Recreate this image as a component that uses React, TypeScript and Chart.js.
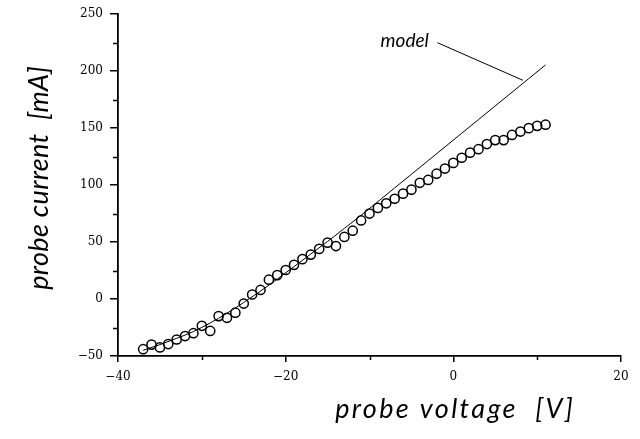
import React, { useEffect, useRef } from "react";
import { Chart, registerables } from "chart.js";

Chart.register(...registerables);

// Measured probe characteristic (circles)
const voltages = [
  -37, -36, -35, -34, -33, -32, -31, -30, -29, -28, -27, -26, -25, -24, -23, -22, -21,
  -20, -19, -18, -17, -16, -15, -14, -13, -12, -11, -10, -9, -8, -7, -6, -5, -4, -3,
  -2, -1, 0, 1, 2, 3, 4, 5, 6, 7, 8, 9, 10, 11,
];
const currents = [
  -44, -40, -42.5, -39.5, -35.5, -32.5, -30, -23.5, -28, -15, -16.5, -12, -4, 4, 8, 17, 21,
  25.5, 30, 35, 39, 44, 49.5, 46.5, 54.5, 60, 69, 75, 80, 84, 88, 92.5, 96, 102, 104.5,
  110, 114.5, 119.5, 124, 128.5, 131.5, 136, 139.5, 139.5, 144, 147, 150, 152, 153,
];

// Model curve (thin line)
const modelVoltages = [
  -37, -35, -33, -31, -29, -27, -25, -23, -21, -19, -17, -15, -13, -11, -9, -7, -5, -3,
  -1, 1, 3, 5, 7, 9, 11,
];
const modelCurrents = [
  -45, -40, -34.5, -28.5, -21, -12.5, -3, 7, 17.5, 28.5, 39.5, 50.5, 62, 73.5, 85.5, 97.5,
  109.5, 121.5, 133.5, 145.5, 157.5, 169.5, 181.5, 193.5, 205.5,
];

// Axis setup
const xMin = -40;
const xMax = 20;
const xStep = 20;
const xMinorTicks = [-30, -10, 10];
const yMin = -50;
const yMax = 250;
const yStep = 50;
const yMinorTicks = [-25, 25, 75, 125, 175, 225];

const xTitle = "probe voltage  [V]";
const yTitle = "probe current  [mA]";

// Annotation "model" with leader line (data coordinates)
const annotationLabel = "model";
const annotationLabelAt = { x: -5.8, y: 227 };
const leaderFrom = { x: -1.9, y: 225 };
const leaderTo = { x: 8.3, y: 192 };

const titleFont = "italic 27px Lato, 'Open Sans', sans-serif";
const tickFont = "DejaVu Serif";

function fitText(
  ctx: CanvasRenderingContext2D,
  text: string,
  x: number,
  y: number,
  targetWidth: number
) {
  (ctx as any).letterSpacing = "0px";
  const w = ctx.measureText(text).width;
  const extra = Math.max(0, (targetWidth - w) / text.length);
  (ctx as any).letterSpacing = extra.toFixed(2) + "px";
  ctx.fillText(text, x + extra / 2, y);
  (ctx as any).letterSpacing = "0px";
}

const overlayPlugin = {
  id: "overlay",
  afterDraw(chart: any) {
    const ctx = chart.ctx as CanvasRenderingContext2D;
    const xs = chart.scales.x;
    const ys = chart.scales.y;
    const area = chart.chartArea;
    ctx.save();
    ctx.strokeStyle = "#000";
    ctx.fillStyle = "#000";
    ctx.lineWidth = 1.5;
    // minor ticks
    ctx.beginPath();
    for (const v of yMinorTicks) {
      const py = Math.round(ys.getPixelForValue(v)) + 0.5;
      ctx.moveTo(area.left - 5, py);
      ctx.lineTo(area.left, py);
    }
    for (const v of xMinorTicks) {
      const px = Math.round(xs.getPixelForValue(v)) + 0.5;
      ctx.moveTo(px, area.bottom);
      ctx.lineTo(px, area.bottom + 4);
    }
    ctx.stroke();

    // annotation leader
    ctx.lineWidth = 1;
    ctx.beginPath();
    ctx.moveTo(xs.getPixelForValue(leaderFrom.x), ys.getPixelForValue(leaderFrom.y));
    ctx.lineTo(xs.getPixelForValue(leaderTo.x), ys.getPixelForValue(leaderTo.y));
    ctx.stroke();

    ctx.font = "italic 19px Lato, 'Open Sans', sans-serif";
    ctx.textAlign = "center";
    ctx.textBaseline = "middle";
    ctx.fillText(
      annotationLabel,
      xs.getPixelForValue(annotationLabelAt.x),
      ys.getPixelForValue(annotationLabelAt.y)
    );

    // axis titles
    ctx.font = titleFont;
    ctx.textAlign = "center";
    ctx.textBaseline = "middle";
    fitText(ctx, xTitle, 454, 409, 240);
    ctx.translate(39, 178);
    ctx.rotate(-Math.PI / 2);
    fitText(ctx, yTitle, 0, 0, 224);
    ctx.restore();
  },
};

const fmt = (v: number | string) => String(v).replace("-", "\u2212");

export default function App() {
  const canvasRef = useRef<HTMLCanvasElement | null>(null);

  useEffect(() => {
    if (!canvasRef.current) return;
    const chart = new Chart(canvasRef.current, {
      type: "scatter",
      data: {
        datasets: [
          {
            label: "measured",
            data: voltages.map((v, i) => ({ x: v, y: currents[i] })),
            pointRadius: 4.6,
            pointBorderWidth: 1.5,
            pointBorderColor: "#000",
            pointBackgroundColor: "rgba(255,255,255,0)",
            showLine: false,
          },
          {
            label: "model",
            data: modelVoltages.map((v, i) => ({ x: v, y: modelCurrents[i] })),
            showLine: true,
            borderColor: "#000",
            borderWidth: 1,
            pointRadius: 0,
            cubicInterpolationMode: "monotone",
          },
        ],
      },
      options: {
        responsive: false,
        animation: false,
        events: [],
        layout: { padding: { left: 0, top: 12, right: 19, bottom: 0 } },
        plugins: {
          legend: { display: false },
          tooltip: { enabled: false },
        },
        scales: {
          x: {
            type: "linear",
            min: xMin,
            max: xMax,
            afterFit: (s: any) => {
              s.height = 83;
            },
            ticks: {
              stepSize: xStep,
              color: "#000",
              padding: 8,
              font: { family: tickFont, size: 12 },
              callback: (v: any) => fmt(v),
            },
            grid: {
              drawOnChartArea: false,
              drawTicks: true,
              tickLength: 6,
              color: "#000",
              lineWidth: 1.5,
            },
            border: { display: true, color: "#000", width: 1.8 },
          },
          y: {
            type: "linear",
            min: yMin,
            max: yMax,
            afterFit: (s: any) => {
              s.width = 118;
            },
            ticks: {
              stepSize: yStep,
              color: "#000",
              padding: 7,
              font: { family: tickFont, size: 12 },
              callback: (v: any) => fmt(v),
            },
            grid: {
              drawOnChartArea: false,
              drawTicks: true,
              tickLength: 8,
              color: "#000",
              lineWidth: 1.5,
            },
            border: { display: true, color: "#000", width: 1.8 },
          },
        },
      },
      plugins: [overlayPlugin],
    } as any);
    return () => chart.destroy();
  }, []);

  return (
    <div
      style={{
        position: "absolute",
        left: 0,
        top: 0,
        width: 640,
        height: 439,
        background: "#fff",
      }}
    >
      <canvas ref={canvasRef} width={640} height={439} />
    </div>
  );
}
